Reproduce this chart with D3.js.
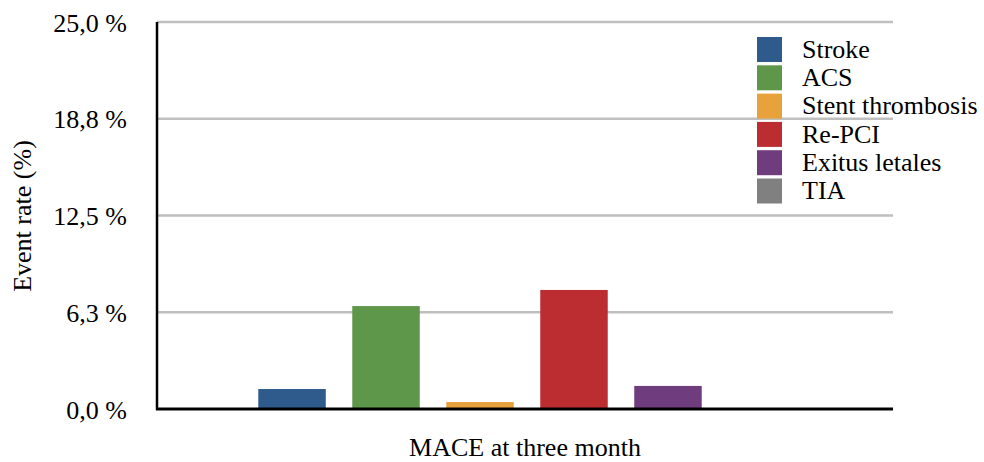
<!DOCTYPE html>
<html>
<head>
<meta charset="utf-8">
<script src="https://cdn.jsdelivr.net/npm/d3@7"></script>
<style>
  html, body { margin: 0; padding: 0; background: #fff; }
  svg { display: block; }
  text { font-family: 'Liberation Serif', 'Times New Roman', serif; fill: #000; }
</style>
</head>
<body>
<svg id="chart" width="984" height="462"></svg>
<script>
const category = "MACE at three month";
const series = ["Stroke", "ACS", "Stent thrombosis", "Re-PCI", "Exitus letales", "TIA"];
const values = [1.29, 6.65, 0.45, 7.69, 1.49, 0];
const colors = ["#2E5A8C", "#5E974A", "#E8A23C", "#BC2D32", "#6F3D7D", "#808080"];
const tickValues = [0, 6.25, 12.5, 18.75, 25];
const tickLabels = ["0,0 %", "6,3 %", "12,5 %", "18,8 %", "25,0 %"];
const yTitle = "Event rate (%)";

const svg = d3.select("#chart");
const m = { left: 157, right: 893, top: 22, bottom: 409 };

const y = d3.scaleLinear().domain([0, 25]).range([m.bottom, m.top]);
const x0 = d3.scaleBand().domain([category]).range([160, 894]).paddingOuter(0.151).paddingInner(0);
const x1 = d3.scaleBand().domain(series).range([0, x0.bandwidth()]).paddingInner(0.282).paddingOuter(0.14);

// gridlines
svg.append("g")
  .selectAll("line")
  .data(tickValues.filter(d => d > 0))
  .join("line")
  .attr("x1", m.left).attr("x2", m.right)
  .attr("y1", d => y(d)).attr("y2", d => y(d))
  .attr("stroke", "#bfbfbf").attr("stroke-width", 2.5);

// y axis labels
const yAxis = d3.axisLeft(y).tickValues(tickValues)
  .tickFormat((d, i) => tickLabels[i]).tickSize(0).tickPadding(0);
const yg = svg.append("g").attr("transform", `translate(127,0)`).call(yAxis);
yg.select(".domain").remove();
yg.selectAll("text").style("font-size", "26px").attr("dy", "0.35em").attr("font-family", "'Liberation Serif', serif");

// bars
const g = svg.append("g").attr("transform", `translate(${x0(category)},0)`);
g.selectAll("rect")
  .data(series.map((s, i) => ({ s, v: values[i], c: colors[i] })))
  .join("rect")
  .attr("x", d => x1(d.s))
  .attr("width", x1.bandwidth())
  .attr("y", d => y(d.v))
  .attr("height", d => y(0) - y(d.v))
  .attr("fill", d => d.c);

// axes lines
svg.append("line").attr("x1", m.left).attr("x2", m.left).attr("y1", m.top).attr("y2", m.bottom + 1)
  .attr("stroke", "#000").attr("stroke-width", 2.5);
svg.append("line").attr("x1", m.left - 1).attr("x2", m.right).attr("y1", m.bottom).attr("y2", m.bottom)
  .attr("stroke", "#000").attr("stroke-width", 3);

// x label
svg.append("text").attr("x", (m.left + m.right) / 2).attr("y", 447)
  .attr("text-anchor", "middle").attr("dy", "0.35em").style("font-size", "26px").text(category);

// y title
svg.append("text").attr("transform", "translate(22,216) rotate(-90)")
  .attr("text-anchor", "middle").attr("dy", "0.35em").style("font-size", "26px").text(yTitle);

// legend
const lg = svg.append("g").attr("transform", "translate(757,37)");
const items = lg.selectAll("g").data(series).join("g")
  .attr("transform", (d, i) => `translate(0,${i * 28.3})`);
items.append("rect").attr("width", 25).attr("height", 25).attr("fill", (d, i) => colors[i]);
items.append("text").attr("x", 45).attr("y", 11.5).attr("dy", "0.35em")
  .style("font-size", "26px").text(d => d);
</script>
</body>
</html>
